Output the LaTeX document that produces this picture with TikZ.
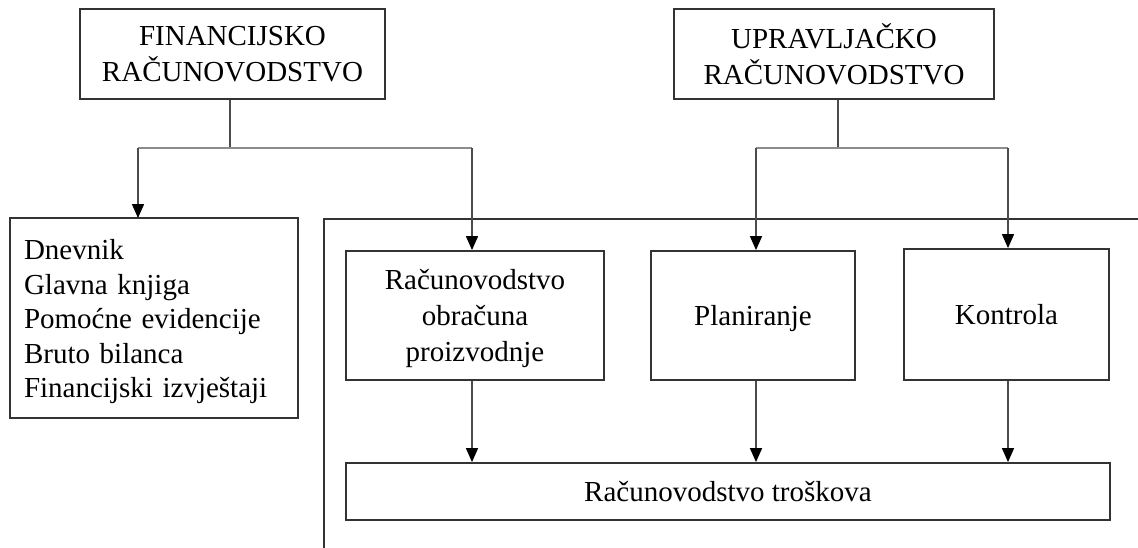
\documentclass[tikz,border=0pt]{standalone}
\usepackage{fontspec}
\setmainfont{Liberation Serif}
\usetikzlibrary{arrows.meta}
\begin{document}
\begin{tikzpicture}[x=1pt,y=-1pt,
  frame/.style={draw=black!80, line width=1.8pt, inner sep=0pt},
  box/.style={frame, align=center, text depth=0pt, font=\fontsize{29}{35.5}\selectfont},
  listbox/.style={frame, text width=260pt, align=left, font=\fontsize{29}{34.5}\selectfont},
  conn/.style={draw=black!70, line width=1.5pt},
  hconn/.style={draw=black!45, line width=1.5pt},
  arr/.style={conn, -{Triangle[length=14pt,width=12pt,black]}}]
\useasboundingbox (0,0) rectangle (1138,547);
% open frame
\draw[black!80, line width=1.8pt] (324,560) -- (324,219) -- (1150,219);
% top boxes
\node[box, minimum width=305pt, minimum height=90pt] (fin) at (232.5,54) {FINANCIJSKO\\RAČUNOVODSTVO};
\node[box, minimum width=320pt, minimum height=90pt] (upr) at (834,54) {UPRAVLJAČKO\\RAČUNOVODSTVO};
% left box
\node[listbox, minimum width=288pt, minimum height=200pt] (lst) at (154,318)
  {\rule{0pt}{28pt}Dnevnik\\Glavna knjiga\\Pomoćne evidencije\\Bruto bilanca\\Financijski izvještaji};
% inner boxes
\node[box, minimum width=258pt, minimum height=129pt, font=\fontsize{29}{36}\selectfont] (rob) at (475,315.5) {Računovodstvo\\obračuna\\proizvodnje};
\node[box, minimum width=204pt, minimum height=129pt] (pla) at (753,315.5) {Planiranje};
\node[box, minimum width=205pt, minimum height=131pt] (kon) at (1006.5,314.5) {Kontrola};
\node[box, minimum width=764pt, minimum height=57pt] (tro) at (728,491.5) {Računovodstvo troškova};
% junctions
\coordinate (jf) at (230,148);
\coordinate (ju) at (838,148);
\coordinate (jfl) at (138,148);
\coordinate (jfr) at (472,148);
\coordinate (jul) at (756,148);
\coordinate (jur) at (1008,148);
\coordinate (lstin) at (138,218);
% connectors
\draw[conn] (fin.south -| jf) -- (jf);
\draw[hconn] (jfl) -- (jfr);
\draw[arr] (jfl) -- (lstin);
\draw[arr] (jfr) -- (jfr |- rob.north);
\draw[conn] (upr.south -| ju) -- (ju);
\draw[hconn] (jul) -- (jur);
\draw[arr] (jul) -- (jul |- pla.north);
\draw[arr] (jur) -- (jur |- kon.north);
\draw[arr] (rob.south -| jfr) -- (jfr |- tro.north);
\draw[arr] (pla.south -| jul) -- (jul |- tro.north);
\draw[arr] (kon.south -| jur) -- (jur |- tro.north);
\end{tikzpicture}
\end{document}
